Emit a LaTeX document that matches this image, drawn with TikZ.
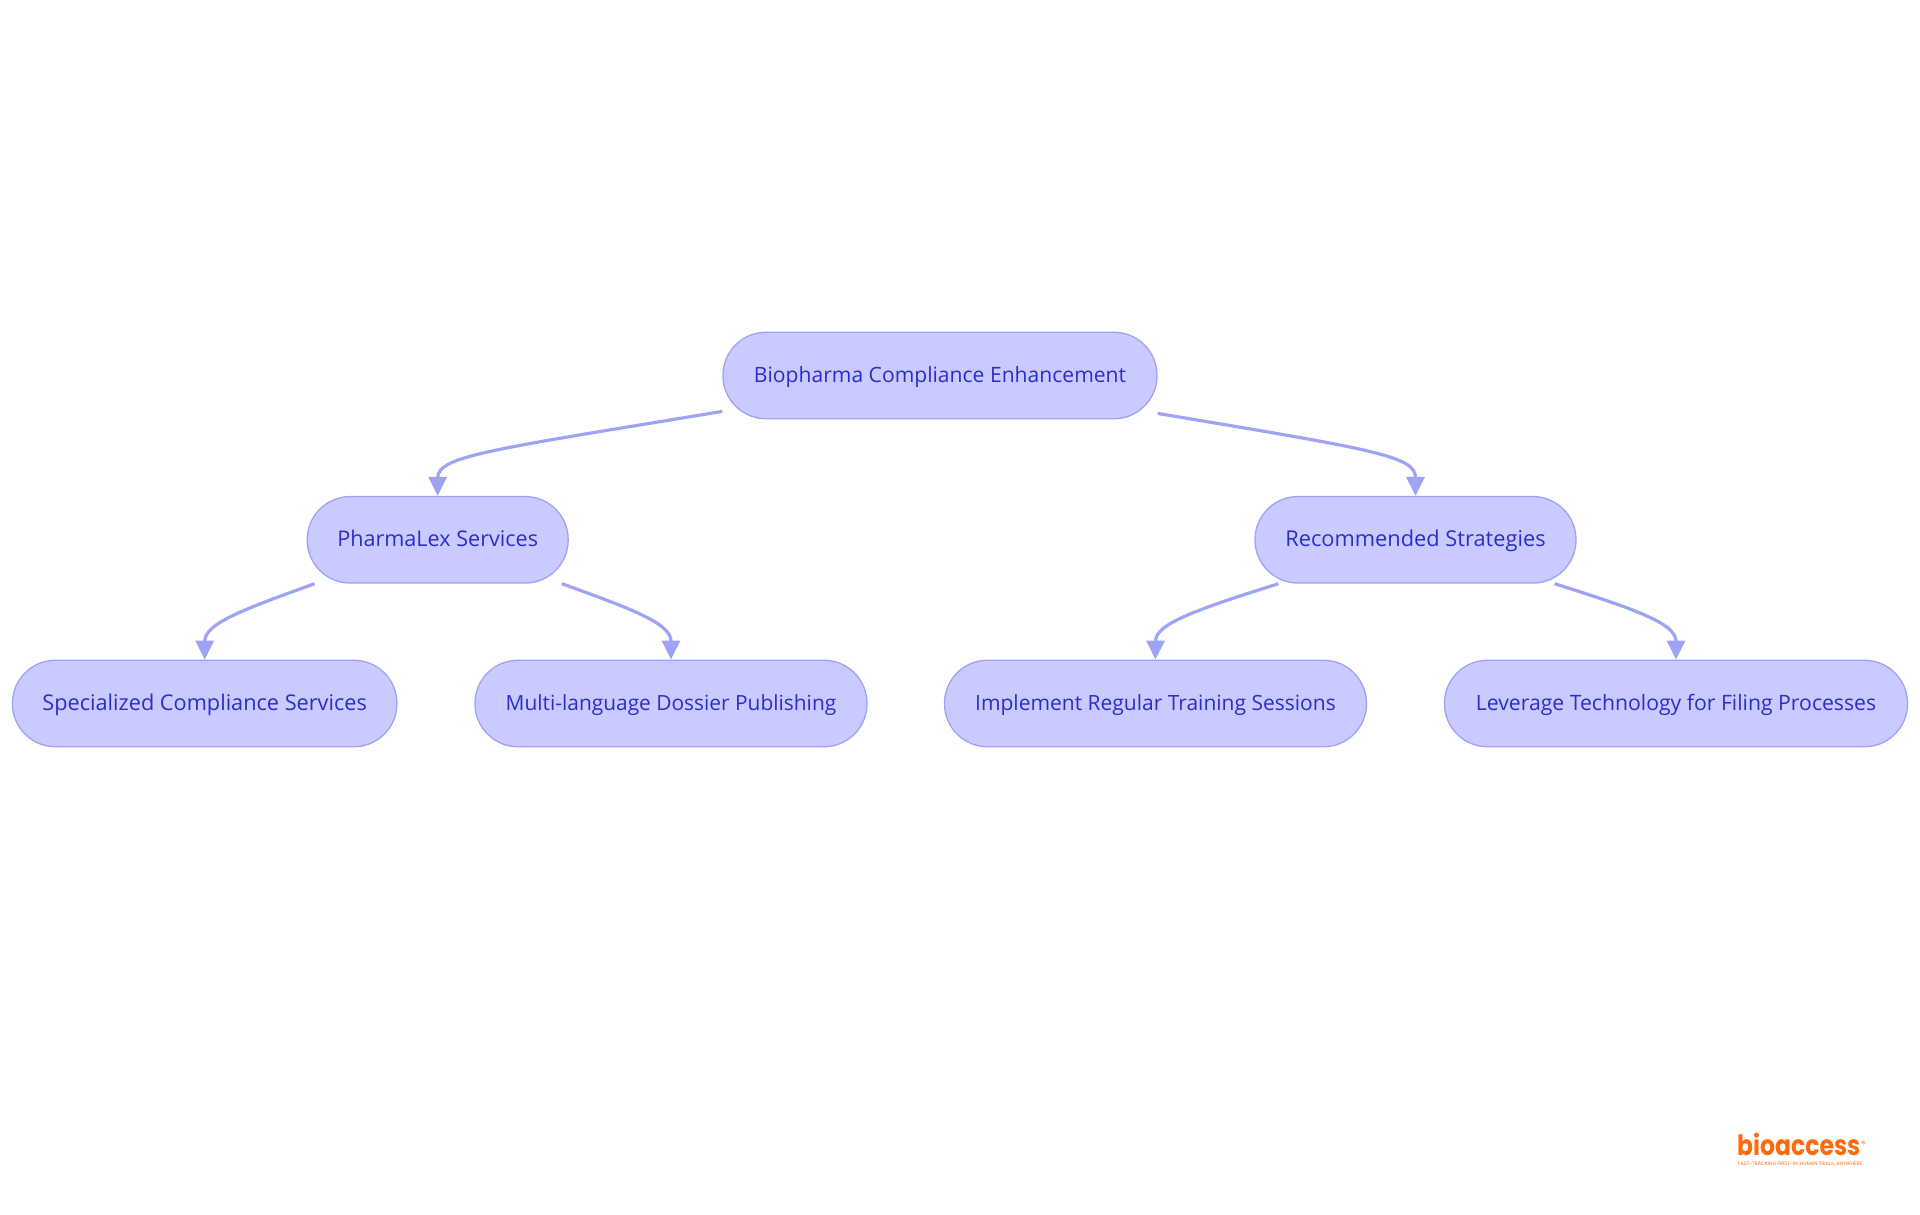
\documentclass[tikz,border=0pt]{standalone}
\usepackage{graphicx}
\usepackage{fontspec}
\setmainfont{Open Sans}
\newfontfamily\logofont{Poppins}
\usetikzlibrary{arrows.meta}
\definecolor{boxfill}{HTML}{C9CAFF}
\definecolor{boxline}{HTML}{9EA3F3}
\definecolor{boxtext}{HTML}{2B2FC9}
\definecolor{logoorange}{HTML}{FF6A0D}
\newcommand{\fs}[1]{\fontsize{#1}{26}\selectfont}
\tikzset{
  box/.style={draw=boxline,fill=boxfill,line width=1.3pt,rounded corners=43pt,minimum height=86.5pt,
    text=boxtext,inner sep=0pt,text height=18pt,text depth=4pt},
  link/.style={draw=boxline,line width=3.2pt,-{Triangle[length=19pt,width=18pt]}},
  logotext/.style={anchor=base west,inner sep=0pt,text=logoorange},
}
\begin{document}
\begin{tikzpicture}[x=1pt,y=-1pt]
\useasboundingbox (0,0) rectangle (1920,1215);
\node[box,minimum width=434pt,font=\fs{21.1}] (root) at (940,375.5) {Biopharma Compliance Enhancement};
\node[box,minimum width=261pt,font=\fs{21.6}] (pharma) at (437.7,539.8) {PharmaLex Services};
\node[box,minimum width=321pt,font=\fs{21.8}] (strat) at (1415.5,539.8) {Recommended Strategies};
\node[box,minimum width=384.5pt,font=\fs{21.7}] (spec) at (204.7,703.5) {Specialized Compliance Services};
\node[box,minimum width=392pt,font=\fs{20.9}] (multi) at (671,703.5) {Multi-language Dossier Publishing};
\node[box,minimum width=422pt,font=\fs{21}] (impl) at (1155.5,703.5) {Implement Regular Training Sessions};
\node[box,minimum width=463pt,font=\fs{21.2}] (lev) at (1676,703.5) {Leverage Technology for Filing Processes};
\draw[link] ([yshift=8pt]root.south west) .. controls +(-230,38) and +(0,-40) .. (pharma.north);
\draw[link] ([yshift=6pt]root.south east) .. controls +(215,36) and +(0,-40) .. (strat.north);
\draw[link] ([xshift=8pt]pharma.south west) .. controls +(-72,26) and +(0,-36) .. (spec.north);
\draw[link] ([xshift=-7pt]pharma.south east) .. controls +(72,26) and +(0,-36) .. (multi.north);
\draw[link] ([xshift=24pt]strat.south west) .. controls +(-82,26) and +(0,-36) .. (impl.north);
\draw[link] ([xshift=-22pt]strat.south east) .. controls +(82,26) and +(0,-36) .. (lev.north);
\node[logotext,font=\logofont\bfseries\fontsize{28}{30}\selectfont] (logo) at (1737,1155) {\scalebox{0.84}[1]{bioaccess}};
\node[logotext,font=\logofont\fontsize{9}{10}\selectfont] (reg) at (1861,1147) {®};
\node[logotext,font=\logofont\fontsize{4.9}{5}\selectfont] (tag) at (1738,1165) {FAST-TRACKING FIRST-IN-HUMAN TRIALS, ANYWHERE};
\end{tikzpicture}
\end{document}
